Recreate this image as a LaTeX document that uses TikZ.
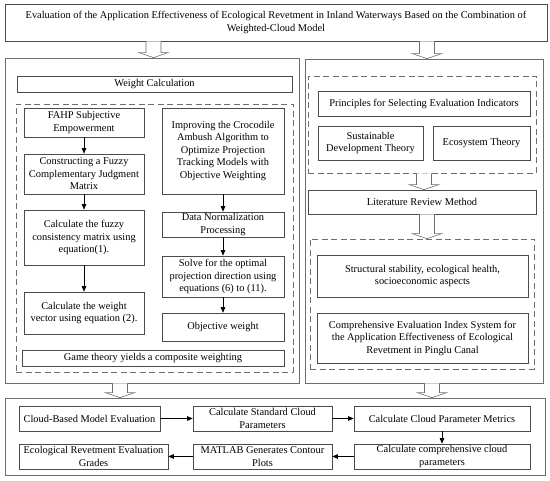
\documentclass[tikz,border=0pt]{standalone}
\usepackage{fontspec}
\setmainfont{Liberation Serif}
\usetikzlibrary{arrows.meta,calc}
\definecolor{boxc}{RGB}{75,75,75}
\definecolor{panc}{RGB}{110,110,110}
\tikzset{
  base/.style={inner sep=0pt, align=center, font=\fontsize{10.4}{12.5}\selectfont, text=black},
  box/.style={base, draw=boxc, line width=0.6pt},
  panel/.style={base, draw=panc, line width=0.7pt},
  dbox/.style={base, draw=panc, line width=0.6pt, dash pattern=on 6pt off 3.5pt},
  arr/.style={draw=black, line width=0.6pt, -{Triangle[length=5.5pt,width=4.5pt]}},
  hollow/.style={draw=panc, line width=0.6pt, fill=white, line join=miter},
}
\newcommand{\bx}[7][box]{%
  \pgfmathsetmacro\bw{#5-#3}\pgfmathsetmacro\bh{#6-#4}%
  \node[#1, minimum width=\bw pt, minimum height=\bh pt] (#2) at ({(#3+#5)/2},{(#4+#6)/2}) {#7};}
\newcommand{\harrow}[3]{%
  \draw[hollow] let \p1=(#2.south), \p2=(#3.north) in
  ({(#1-7.5)*1pt},{\y1}) -- ({(#1-7.5)*1pt},{\y2+5pt}) -- ({(#1-14.5)*1pt},{\y2+5pt}) -- ({#1*1pt},{\y2}) -- ({(#1+14.5)*1pt},{\y2+5pt}) -- ({(#1+7.5)*1pt},{\y2+5pt}) -- ({(#1+7.5)*1pt},{\y1});}
\begin{document}
\begin{tikzpicture}[x=1pt,y=-1pt]
\useasboundingbox[fill=white] (0,0) rectangle (550,481);
% title
\bx[box]{title}{5}{4}{547}{41}{Evaluation of the Application Effectiveness of Ecological Revetment in Inland Waterways Based on the Combination of\\Weighted-Cloud Model}
% panels
\bx[panel]{lp}{5}{58}{299}{383}{}
\bx[panel]{rp}{305}{59}{543}{383}{}
\bx[panel]{bp}{5}{398}{545}{475}{}
% left panel
\bx{wc}{17}{76}{292}{92}{Weight Calculation}
\bx[dbox]{d1}{16}{104}{293}{372}{}
\bx{fahp}{24}{108}{144}{137}{FAHP Subjective\\Empowerment}
\bx{cons}{24}{154}{144}{194}{Constructing a Fuzzy\\Complementary Judgment\\Matrix}
\bx{fuzzy}{24}{210}{144}{265}{Calculate the fuzzy\\consistency matrix using\\equation(1).}
\bx{wvec}{24}{292}{144}{334}{Calculate the weight\\vector using equation (2).}
\bx{impr}{162}{108}{284}{194}{Improving the Crocodile\\Ambush Algorithm to\\Optimize Projection\\Tracking Models with\\Objective Weighting}
\bx{norm}{162}{212}{284}{237}{Data Normalization\\Processing}
\bx{solve}{162}{256}{284}{297}{Solve for the optimal\\projection direction using\\equations (6) to (11).}
\bx{obj}{162}{313}{284}{341}{Objective weight}
\bx{game}{22}{350}{284}{366}{Game theory yields a composite weighting}
\draw[arr] (fahp) -- (cons);
\draw[arr] (cons) -- (fuzzy);
\draw[arr] (fuzzy) -- (wvec);
\draw[arr] (impr) -- (norm);
\draw[arr] (norm) -- (solve);
\draw[arr] (solve) -- (obj);
% right panel
\bx[dbox]{d2}{308}{76}{536}{173}{}
\bx{princ}{318}{91}{530}{116}{Principles for Selecting Evaluation Indicators}
\bx{sust}{318}{126}{423}{160}{Sustainable\\Development Theory}
\bx{eco}{433}{126}{530}{160}{Ecosystem Theory}
\bx{lit}{308}{190}{536}{214}{Literature Review Method}
\bx[dbox]{d3}{310}{239}{534}{369}{}
\bx{struct}{317}{255}{528}{297}{Structural stability, ecological health,\\socioeconomic aspects}
\bx{comp}{317}{313}{528}{363}{Comprehensive Evaluation Index System for\\the Application Effectiveness of Ecological\\Revetment in Pinglu Canal}
% bottom
\bx{cloud}{19}{406}{160}{431}{Cloud-Based Model Evaluation}
\bx{std}{193}{406}{332}{431}{Calculate Standard Cloud\\Parameters}
\bx{metr}{354}{406}{530}{431}{Calculate Cloud Parameter Metrics}
\bx{grade}{19}{444}{168}{469}{Ecological Revetment Evaluation\\Grades}
\bx{matlab}{193}{444}{332}{469}{MATLAB Generates Contour\\Plots}
\bx{ccp}{354}{444}{530}{469}{Calculate comprehensive cloud\\parameters}
\draw[arr] (cloud) -- (std);
\draw[arr] (std) -- (metr);
\draw[arr] (metr) -- (ccp);
\draw[arr] (ccp) -- (matlab);
\draw[arr] (matlab) -- (grade);
% hollow arrows
\harrow{153.5}{title}{lp}
\harrow{427}{title}{rp}
\harrow{424}{d2}{lit}
\harrow{427}{lit}{d3}
\harrow{120}{lp}{bp}
\harrow{432}{rp}{bp}
\end{tikzpicture}
\end{document}
